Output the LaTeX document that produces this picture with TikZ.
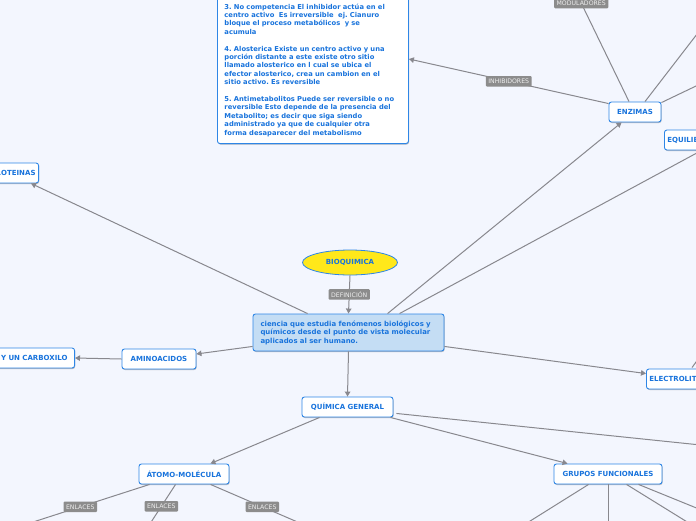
\documentclass[tikz,border=0pt]{standalone}
\usepackage{fontspec}
\setmainfont{DejaVu Sans}
\frenchspacing
\usetikzlibrary{arrows.meta,calc,shapes.geometric,shadows}
\definecolor{bg}{HTML}{F3F6FE}
\definecolor{tblue}{HTML}{1873DC}
\definecolor{bblue}{HTML}{2E86E6}
\definecolor{lgray}{HTML}{88888E}
\definecolor{lblgray}{HTML}{8C8C8C}
\definecolor{defill}{HTML}{C4DDF4}
\definecolor{yel}{HTML}{FFE81A}
\tikzset{
  topic/.style={draw=bblue, line width=0.9pt, fill=white, rounded corners=2.5pt,
    font=\bfseries\fontsize{7}{8}\selectfont, text=tblue, minimum height=20pt, inner sep=3pt,
    drop shadow={shadow xshift=0.6pt, shadow yshift=-1pt, opacity=0.25, fill=black}},
  lbl/.style={fill=lblgray, rounded corners=1pt, text=white!93!black,
    font=\fontsize{6.2}{7}\selectfont, inner xsep=2.5pt, inner ysep=1.5pt, minimum height=10.5pt},
  conn/.style={draw=lgray, line width=1pt},
  arr/.style={conn, -{Triangle[length=5pt,width=5.5pt]}},
}
\begin{document}
\begin{tikzpicture}[x=1pt,y=-1pt]
\useasboundingbox (0,0) rectangle (696,520);
\clip (0,0) rectangle (696,520);
\fill[bg] (-5,-5) rectangle (701,525);

% nodes
\node[ellipse, draw=bblue, line width=0.8pt, fill=yel, minimum width=95pt, minimum height=25pt,
  font=\bfseries\fontsize{7}{8}\selectfont, text=tblue] (bio) at (350,262.5) {BIOQUIMICA};

\node[topic, fill=defill, minimum width=191pt, minimum height=37pt, text width=176pt, inner xsep=7.5pt,
  align=left, font=\bfseries\fontsize{6.95}{8.5}\selectfont] (def) at (348.5,332.5)
  {ciencia que estudia fenómenos biológicos y\\ químicos desde el punto de vista molecular\\ aplicados al ser humano.};

\node[topic, minimum width=91pt] (qg) at (347.5,407) {QUÍMICA GENERAL};
\node[topic, minimum width=74pt] (amino) at (159,359) {AMINOACIDOS};
\node[topic, anchor=east, text width=110pt, inner xsep=7pt, align=right] (carbox) at (75,358) {Y UN CARBOXILO};
\node[topic, anchor=east] (prot) at (39,173) {PROTEINAS};
\node[topic, minimum width=52pt] (enz) at (635,112) {ENZIMAS};
\node[topic, anchor=west] (equil) at (664,140) {EQUILIBRIO};
\node[topic, anchor=west] (electro) at (646,379) {ELECTROLITOS};
\node[topic, minimum width=90pt] (atomo) at (184,474) {ÁTOMO-MOLÉCULA};
\node[topic, minimum width=108pt] (grupos) at (608,474) {GRUPOS FUNCIONALES};

\node[topic, anchor=south west, minimum width=191pt, text width=177pt, inner xsep=7pt, inner ysep=7pt,
  align=left, font=\bfseries\fontsize{6.75}{8.4}\selectfont] (inhib) at (217,144)
  {3. No competencia El inhibidor actúa en el\\
   centro activo\ \ Es irreversible\ \ ej. Cianuro\\
   bloque el proceso metabólicos\ \ y se\\
   acumula\\[8.4pt]
   4. Alosterica Existe un centro activo y una\\
   porción distante a este existe otro sitio\\
   llamado alosterico en l cual se ubica el\\
   efector alosterico, crea un cambion en el\\
   sitio activo. Es reversible\\[8.4pt]
   5. Antimetabolitos Puede ser reversible o no\\
   reversible Esto depende de la presencia del\\
   Metabolito; es decir que siga siendo\\
   administrado ya que de cualquier otra\\
   forma desaparecer del metabolismo};

% off-canvas ends
\coordinate (modend) at (570,-20);
\coordinate (enz1) at (731,-10);
\coordinate (enz2) at (740,65);
\coordinate (el1) at (712,340);
\coordinate (qg1) at (720,447);
\coordinate (at1) at (-1,533);
\coordinate (at2) at (144,533);
\coordinate (at3) at (323,533);
\coordinate (gf1) at (511,533);
\coordinate (gf2) at (608,533);
\coordinate (gf3) at (705,533);
\coordinate (gf4) at (758,533);

% connectors
\draw[arr] (bio.south) -- node[lbl] {DEFINICIÓN} (def.north);
\draw[arr] (def.south) -- (qg.north);
\draw[arr] ($(def.south west)+(0,-5)$) -- (amino);
\draw[arr] (amino.west) -- (carbox.east);
\draw[arr] ($(def.north west)+(55,0)$) -- ($(prot.south east)+(-8,0)$);
\draw[arr] ($(def.north west)+(135,0)$) -- ($(enz.south west)+(13,0)$);
\draw[arr] ($(def.north west)+(147,0)$) -- ($(equil.south west)+(37.5,0)$);
\draw[arr] ($(def.south east)+(0,-5)$) -- ($(electro.north west)+(0,5)$);
\draw[arr] ($(enz.north west)+(0,2)$) -- node[lbl, pos=0.5] {INHIBIDORES} ($(inhib.south east)+(0,-85)$);
\draw[conn] ($(enz.north)+(-6,0)$) -- node[lbl, pos=0.81] {MODULADORES} (modend);
\draw[conn] ($(enz.north)+(10,0)$) -- (enz1);
\draw[conn] ($(enz.north east)+(0,1)$) -- (enz2);
\draw[conn] ($(electro.north west)+(46,-1)$) -- (el1);
\draw[arr] ($(qg.south west)+(18,0)$) -- ($(atomo.north east)+(-19,0)$);
\draw[arr] ($(qg.south east)+(-3,0)$) -- ($(grupos.north west)+(14,0)$);
\draw[conn] ($(qg.south east)+(3,-4)$) -- (qg1);
\draw[conn] ($(atomo.south west)+(11,0)$) -- node[lbl, pos=0.46] {ENLACES} (at1);
\draw[conn] ($(atomo.south west)+(37,0)$) -- node[lbl, pos=0.45] {ENLACES} (at2);
\draw[conn] ($(atomo.south west)+(72,0)$) -- node[lbl, pos=0.46] {ENLACES} (at3);
\draw[conn] ($(grupos.south west)+(35,0)$) -- (gf1);
\draw[conn] (grupos.south) -- (gf2);
\draw[conn] ($(grupos.south west)+(73,0)$) -- (gf3);
\draw[conn] ($(grupos.south west)+(85,0)$) -- (gf4);
\end{tikzpicture}
\end{document}
